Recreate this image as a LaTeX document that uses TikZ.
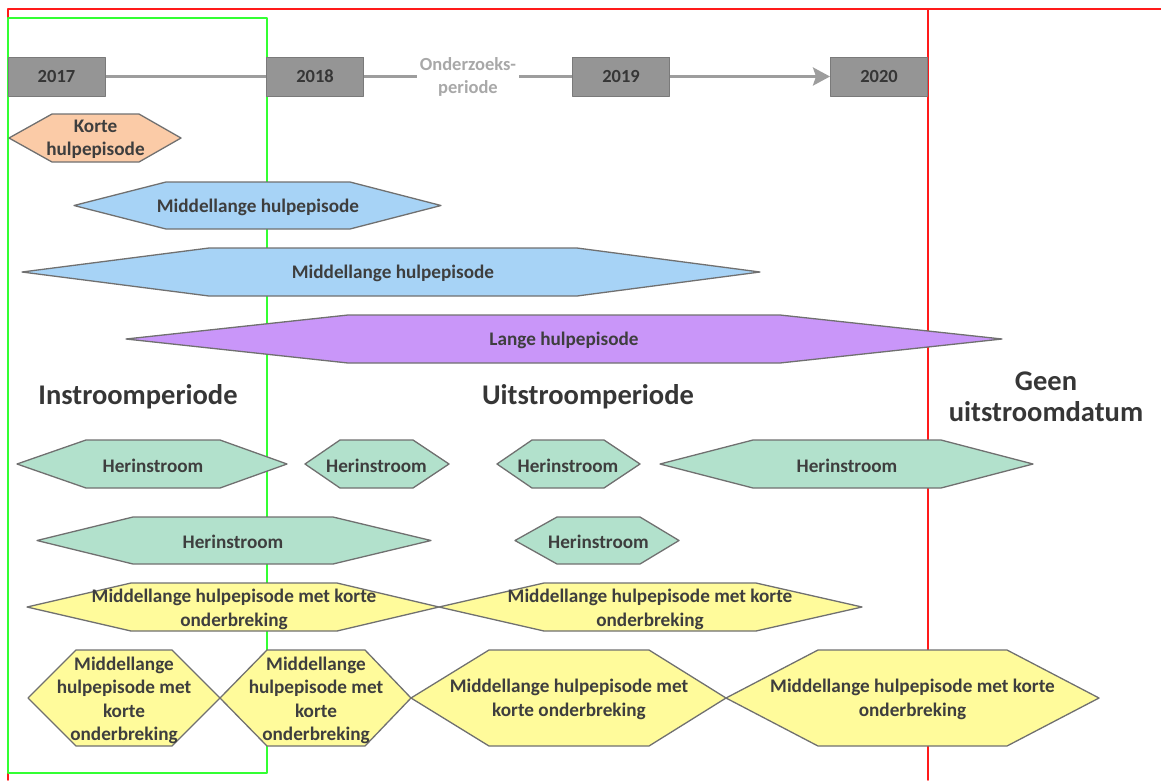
\documentclass[tikz,border=0pt]{standalone}
\usepackage{fontspec}
\setmainfont{Carlito}
\usetikzlibrary{arrows.meta}
\definecolor{boxgray}{HTML}{959595}
\definecolor{boxedge}{HTML}{7A7A7A}
\definecolor{yeartext}{HTML}{363636}
\definecolor{linegray}{HTML}{9D9D9D}
\definecolor{onderzgray}{HTML}{A8A8A8}
\definecolor{edgegray}{HTML}{707070}
\definecolor{shapetext}{HTML}{3E3E3E}
\definecolor{kortefill}{HTML}{FBCBA7}
\definecolor{middelfill}{HTML}{A7D3F6}
\definecolor{langefill}{HTML}{C996F9}
\definecolor{herinfill}{HTML}{B2E1CC}
\definecolor{onderbrfill}{HTML}{FFFB9B}
\definecolor{framered}{HTML}{FF1A1A}
\definecolor{framegreen}{HTML}{33FF33}

\begin{document}
\begin{tikzpicture}[line cap=round,line join=round,>={Stealth[length=17pt,width=18pt,inset=3pt]},x=1pt,y=-1pt,
	yearbox/.style={draw=boxedge,fill=boxgray,line width=1pt,minimum width=97pt,minimum height=39pt,inner sep=0pt,text=yeartext,font=\bfseries\fontsize{18.5}{22}\selectfont},
	timeline/.style={draw=linegray,line width=3pt,line cap=butt},
	episode/.style={draw=edgegray,line width=1.3pt},
	epitext/.style={align=center,inner sep=0pt,yshift=-1.5pt,text=shapetext,font=\bfseries\fontsize{19.2}{23.3}\selectfont},
	period/.style={align=center,inner sep=0pt,text=yeartext,font=\bfseries\fontsize{28.5}{31}\selectfont}]
		\useasboundingbox (0,0) rectangle (1161,780);
		\draw [line width=1.5pt,color=framered] (8,780) -- (8,9) -- (1161,9);
		\draw [line width=1.5pt,color=framered] (928,9) -- (928,780);
		\draw [line width=2pt,color=framegreen] (8,18) rectangle (267,773);
		\node[yearbox] (y2017) at (56.5,76.5) {2017};
		\node[yearbox] (y2018) at (315,76.5) {2018};
		\node[yearbox] (y2019) at (621,76.5) {2019};
		\node[yearbox] (y2020) at (879,76.5) {2020};
		\node[align=center,inner xsep=3pt,inner ysep=0pt,text=onderzgray,font=\bfseries\fontsize{18.5}{23}\selectfont] (onderz) at (468,76.5) {Onderzoeks-\\periode};
		\draw [timeline] (y2017) -- (y2018);
		\draw [timeline] (y2018) -- (onderz);
		\draw [timeline] (onderz) -- (y2019);
		\draw [timeline,->] (y2019) -- (y2020);
		\filldraw [episode,fill=kortefill] (9,138) -- (52,114) -- (139,114) -- (181,138) -- (139,162) -- (52,162) -- cycle;
		\node[epitext] (korte) at (95.5,138) {Korte\\hulpepisode};
		\filldraw [episode,fill=middelfill] (74,205.5) -- (166,182) -- (350,182) -- (441,205.5) -- (350,229) -- (166,229) -- cycle;
		\node[epitext] (middel1) at (258,205.5) {Middellange hulpepisode};
		\filldraw [episode,fill=middelfill] (22,272) -- (209,248) -- (577,248) -- (760,272) -- (577,296) -- (209,296) -- cycle;
		\node[epitext] (middel2) at (393,272) {Middellange hulpepisode};
		\filldraw [episode,fill=langefill] (126,339) -- (348,315) -- (780,315) -- (1002,339) -- (780,363) -- (348,363) -- cycle;
		\node[epitext] (lange) at (564,339) {Lange hulpepisode};
		\node[period] (instroom) at (138,397) {Instroomperiode};
		\node[period] (uitstroom) at (588,397) {Uitstroomperiode};
		\node[period] (geen) at (1046,397) {Geen\\uitstroomdatum};
		\filldraw [episode,fill=herinfill] (17,464) -- (86,440) -- (220,440) -- (287,464) -- (220,488) -- (86,488) -- cycle;
		\node[epitext] (herin1) at (153,464) {Herinstroom};
		\filldraw [episode,fill=herinfill] (305,464) -- (340,440) -- (413,440) -- (449,464) -- (413,488) -- (340,488) -- cycle;
		\node[epitext] (herin2) at (376.5,464) {Herinstroom};
		\filldraw [episode,fill=herinfill] (497,464) -- (532,440) -- (604,440) -- (640,464) -- (604,488) -- (532,488) -- cycle;
		\node[epitext] (herin3) at (568,464) {Herinstroom};
		\filldraw [episode,fill=herinfill] (660,464) -- (753,440) -- (941,440) -- (1033,464) -- (941,488) -- (753,488) -- cycle;
		\node[epitext] (herin4) at (847,464) {Herinstroom};
		\filldraw [episode,fill=herinfill] (37,540.5) -- (133,517) -- (333,517) -- (431,540.5) -- (333,564) -- (133,564) -- cycle;
		\node[epitext] (herin5) at (233,540.5) {Herinstroom};
		\filldraw [episode,fill=herinfill] (515,540.5) -- (557,517) -- (640,517) -- (679,540.5) -- (640,564) -- (557,564) -- cycle;
		\node[epitext] (herin6) at (598.5,540.5) {Herinstroom};
		\filldraw [episode,fill=onderbrfill] (27,607) -- (131,583) -- (337,583) -- (439,607) -- (337,631) -- (131,631) -- cycle;
		\node[epitext] (onderbr1) at (234,608) {Middellange hulpepisode met korte\\onderbreking};
		\filldraw [episode,fill=onderbrfill] (439,607) -- (544,583) -- (756,583) -- (862,607) -- (756,631) -- (544,631) -- cycle;
		\node[epitext] (onderbr2) at (650,608) {Middellange hulpepisode met korte\\onderbreking};
		\filldraw [episode,fill=onderbrfill] (28,698) -- (76,650) -- (172,650) -- (220,698) -- (172,746) -- (76,746) -- cycle;
		\node[epitext] (onderbr3) at (124,699) {Middellange\\hulpepisode met\\korte\\onderbreking};
		\filldraw [episode,fill=onderbrfill] (220,698) -- (267,650) -- (365,650) -- (411,698) -- (365,746) -- (267,746) -- cycle;
		\node[epitext] (onderbr4) at (316,699) {Middellange\\hulpepisode met\\korte\\onderbreking};
		\filldraw [episode,fill=onderbrfill] (411,698) -- (489,650) -- (649,650) -- (726,698) -- (649,746) -- (489,746) -- cycle;
		\node[epitext] (onderbr5) at (569,698) {Middellange hulpepisode met\\korte onderbreking};
		\filldraw [episode,fill=onderbrfill] (726,698) -- (818,650) -- (1007,650) -- (1099,698) -- (1007,746) -- (818,746) -- cycle;
		\node[epitext] (onderbr6) at (912.5,698) {Middellange hulpepisode met korte\\onderbreking};
	\end{tikzpicture}
\end{document}
